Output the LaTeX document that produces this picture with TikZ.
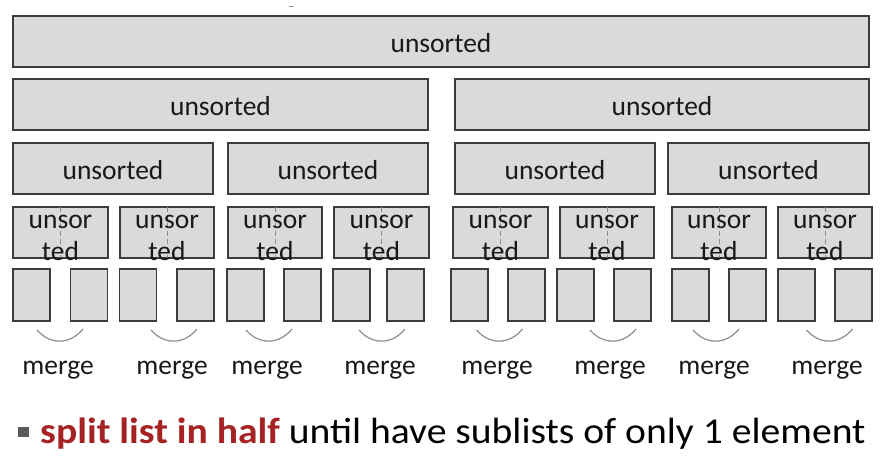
\documentclass[tikz,border=0pt]{standalone}
\usepackage{fontspec}
\setmainfont{Carlito}
\definecolor{boxfill}{RGB}{218,218,218}
\definecolor{boxline}{RGB}{60,60,60}
\definecolor{arcgray}{RGB}{140,140,140}
\definecolor{redtext}{RGB}{165,35,35}
\definecolor{bulletgray}{RGB}{90,90,90}
\begin{document}
\begin{tikzpicture}[x=1pt,y=-1pt,
  box/.style={draw=boxline, fill=boxfill, line width=1.4pt, inner sep=0pt, outer sep=0pt, minimum height=51pt},
  lbl/.style={anchor=base, inner sep=0pt, font=\fontsize{27.5}{32}\selectfont, text=black!90},
  divider/.style={draw=arcgray, line width=0.8pt, dash pattern=on 5pt off 3pt},
  mergearc/.style={draw=arcgray, line width=1.2pt},
  bottomtext/.style={anchor=base west, inner sep=0pt, font=\fontsize{36.5}{40}\selectfont}]
\useasboundingbox (0,0) rectangle (889,461);
% tiny mark at top
\coordinate (m1) at (289,6); \coordinate (m2) at (293,6);
\draw[arcgray, line width=0.8pt] (m1) -- (m2);
% row 1
\node[box, minimum width=856pt] (r1) at (441,41.5) {};
\node[lbl] (t1) at (441,52.5) {unsorted};
% row 2
\node[box, minimum width=415pt] (r2a) at (220.5,104.5) {};
\node[box, minimum width=414pt] (r2b) at (662,104.5) {};
\node[lbl] (t2a) at (220.5,115.5) {unsorted};
\node[lbl] (t2b) at (662,115.5) {unsorted};
% row 3
\foreach \c/\w/\n in {113/200/a, 328/200/b, 555/200/c, 768.5/201/d}{
  \node[box, minimum width=\w pt] (r3\n) at (\c,168.5) {};
  \node[lbl] (t3\n) at (\c,179.5) {unsorted};
}
% row 4
\foreach \c/\w/\n in {60.5/95/a, 167/94/b, 275/94/c, 381.5/95/d, 500.5/95/e, 607/94/f, 719/94/g, 825/94/h}{
  \node[box, minimum width=\w pt] (r4\n) at (\c,232.5) {};
  \draw[divider] (r4\n.north) -- (r4\n.south);
  \node[lbl] (t4\n) at (\c,228) {unsor};
  \node[lbl] (u4\n) at (\c,260) {ted};
}
% row 5
\foreach \c/\n in {31.5/1, 89/2, 138/3, 195.5/4, 245.5/5, 302.5/6, 351.5/7, 405.5/8, 469.5/9, 526.5/10, 575.5/11, 632.5/12, 690.5/13, 747.5/14, 796.5/15, 853.5/16}{
  \node[box, minimum width=37pt, minimum height=52pt] (r5n\n) at (\c,295) {};
}
% merge arcs and labels
\foreach \a/\m/\n in {60/58/1, 174/172/2, 269/267/3, 382/380/4, 499.5/497/5, 613/610/6, 716/714/7, 829.5/827/8}{
  \coordinate (al\n) at (\a-23,330);
  \coordinate (ar\n) at (\a+23,329);
  \draw[mergearc] (al\n) .. controls (\a-10,345) and (\a+10,345) .. (ar\n);
  \node[lbl] (mg\n) at (\m,374) {merge};
}
% bottom bullet line
\node[fill=bulletgray, minimum width=11pt, minimum height=10pt, inner sep=0pt] (bul) at (23,432) {};
\node[bottomtext] (bt) at (40,443.5) {\scalebox{1.085}[1]{{\color{redtext}\bfseries split list in half} until have sublists of only 1 element}};
\end{tikzpicture}
\end{document}
